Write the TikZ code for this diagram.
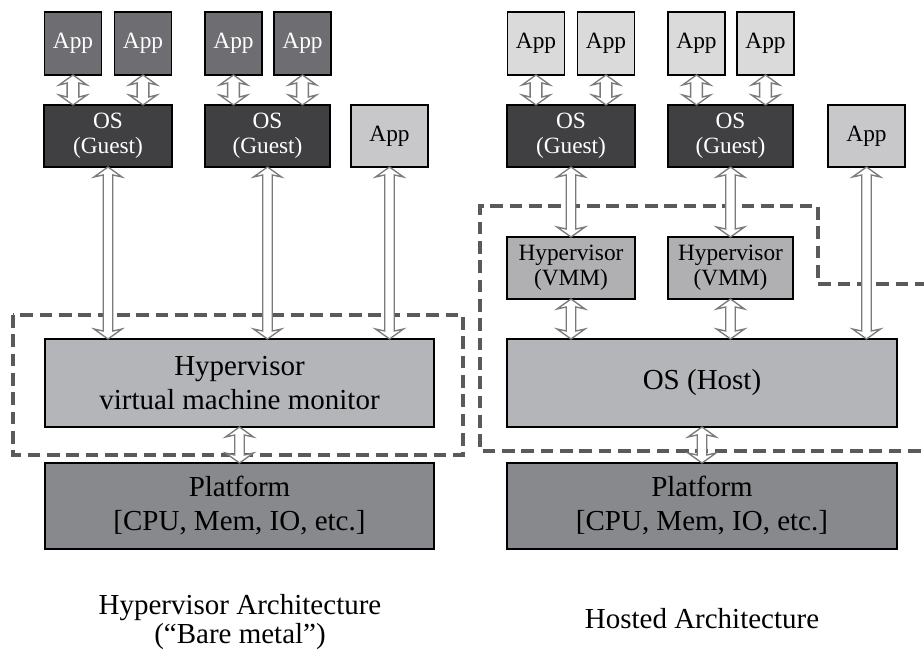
\documentclass[tikz,border=0pt]{standalone}
\usepackage{fontspec}
\setmainfont{Liberation Serif}
\usetikzlibrary{calc}

\definecolor{appdark}{HTML}{6E6E72}
\definecolor{guestos}{HTML}{404042}
\definecolor{applight}{HTML}{DADADA}
\definecolor{appmid}{HTML}{C8C8CA}
\definecolor{hyperfill}{HTML}{B4B5B9}
\definecolor{vmmfill}{HTML}{B0B0B3}
\definecolor{platfill}{HTML}{88898D}
\definecolor{dashgray}{HTML}{5A5A5A}
\definecolor{arrowgray}{HTML}{7A7A7A}

% half width of the shaft of a two-way connector
\newcommand\shafthalf{3.6pt}

\tikzset{
  boxw/.style={minimum width={#1*0.75pt}},
  boxh/.style={minimum height={#1*0.75pt}},
  box/.style={draw=black, line width=1.1pt, inner sep=0pt, outer sep=0pt,
    align=center, font=\fontsize{17.5}{19}\selectfont},
  bigbox/.style={box, font=\fontsize{21.75}{25.5}\selectfont},
  darkapp/.style={box, fill=appdark, text=white, boxw=57, boxh=63},
  lightapp/.style={box, fill=applight, boxw=57, boxh=63},
  soloapp/.style={box, fill=appmid, boxw=77, boxh=62},
  guest/.style={box, fill=guestos, text=white, boxh=62},
  vmm/.style={box, fill=vmmfill, boxh=62},
  captext/.style={inner sep=0pt, font=\fontsize{21.75}{25.5}\selectfont},
  dashbox/.style={draw=dashgray, line width=2.6pt, dash pattern=on 9.5pt off 5pt},
  shaft/.code={\renewcommand\shafthalf{#1}},
  dbl/.style={draw=arrowgray, fill=white, line width=1pt, line join=miter,
    to path={let \p1=(\tikztostart), \p2=(\tikztotarget) in
      (\x1,\y1) -- (\x1+10.5pt,\y1-7.5pt) -- (\x1+\shafthalf,\y1-6pt)
      -- (\x1+\shafthalf,\y2+6pt) -- (\x1+10.5pt,\y2+7.5pt) -- (\x1,\y2)
      -- (\x1-10.5pt,\y2+7.5pt) -- (\x1-\shafthalf,\y2+6pt)
      -- (\x1-\shafthalf,\y1-6pt) -- (\x1-10.5pt,\y1-7.5pt) -- cycle}},
  dblwide/.style={dbl, shaft=4.4pt}
}

\begin{document}
\begin{tikzpicture}[x=0.75pt,y=-0.75pt]

\useasboundingbox (0,0) rectangle (924,655);
\fill[white] (0,0) rectangle (924,655);

% dashed outlines of the virtualisation layers
\draw[dashbox] (13,315) rectangle (463,455);
\begin{scope}
  \clip (0,0) rectangle (924,655);
  \draw[dashbox] (940,451) -- (480,451) -- (480,206) -- (818,206)
    -- (818,284) -- (940,284);
\end{scope}

% ---- bare-metal stack ----
\node[darkapp] (la1) at (73,43.5) {App};
\node[darkapp] (la2) at (143,43.5) {App};
\node[darkapp] (la3) at (233.5,43.5) {App};
\node[darkapp] (la4) at (302.5,43.5) {App};
\node[guest, boxw=128] (lg1) at (108,136) {OS\\(Guest)};
\node[guest, boxw=125] (lg2) at (267.5,136) {OS\\(Guest)};
\node[soloapp] (la5) at (389.5,136) {App};
\node[bigbox, fill=hyperfill, boxw=389, boxh=88] (lhyp) at (239.5,383)
  {Hypervisor\\virtual machine monitor};
\node[bigbox, fill=platfill, boxw=389, boxh=86] (lplat) at (239.5,506)
  {Platform\\{[CPU, Mem, IO, etc.]}};

% ---- hosted stack ----
\node[lightapp] (ra1) at (536,43.5) {App};
\node[lightapp] (ra2) at (606,43.5) {App};
\node[lightapp] (ra3) at (696.5,43.5) {App};
\node[lightapp] (ra4) at (765.5,43.5) {App};
\node[guest, boxw=128] (rg1) at (571,136) {OS\\(Guest)};
\node[guest, boxw=125] (rg2) at (730.5,136) {OS\\(Guest)};
\node[soloapp] (ra5) at (866.5,136) {App};
\node[vmm, boxw=128] (rv1) at (571,268) {Hypervisor\\(VMM)};
\node[vmm, boxw=125] (rv2) at (730.5,268) {Hypervisor\\(VMM)};
\node[bigbox, fill=hyperfill, boxw=390, boxh=88] (rhost) at (702,383) {OS (Host)};
\node[bigbox, fill=platfill, boxw=390, boxh=86] (rplat) at (702,506)
  {Platform\\{[CPU, Mem, IO, etc.]}};

% ---- two-way connectors ----
\draw[dblwide] (la1.south) to (la1.south |- lg1.north);
\draw[dblwide] (la2.south) to (la2.south |- lg1.north);
\draw[dblwide] (la3.south) to (la3.south |- lg2.north);
\draw[dblwide] (la4.south) to (la4.south |- lg2.north);
\draw[dbl] (lg1.south) to (lg1.south |- lhyp.north);
\draw[dbl] (lg2.south) to (lg2.south |- lhyp.north);
\draw[dbl] (la5.south) to (la5.south |- lhyp.north);
\draw[dbl] (lhyp.south) to (lplat.north);

\draw[dblwide] (ra1.south) to (ra1.south |- rg1.north);
\draw[dblwide] (ra2.south) to (ra2.south |- rg1.north);
\draw[dblwide] (ra3.south) to (ra3.south |- rg2.north);
\draw[dblwide] (ra4.south) to (ra4.south |- rg2.north);
\draw[dbl] (rg1.south) to (rv1.north);
\draw[dbl] (rg2.south) to (rv2.north);
\draw[dbl] (rv1.south) to (rv1.south |- rhost.north);
\draw[dbl] (rv2.south) to (rv2.south |- rhost.north);
\draw[dbl] (ra5.south) to (ra5.south |- rhost.north);
\draw[dbl] (rhost.south) to (rplat.north);

% ---- captions ----
\node[captext, anchor=base] (capl1) at (240,614) {Hypervisor Architecture};
\node[captext, anchor=base] (capl2) at (240,643) {(“Bare metal”)};
\node[captext, anchor=base] (capr) at (702,628) {Hosted Architecture};
\end{tikzpicture}
\end{document}
